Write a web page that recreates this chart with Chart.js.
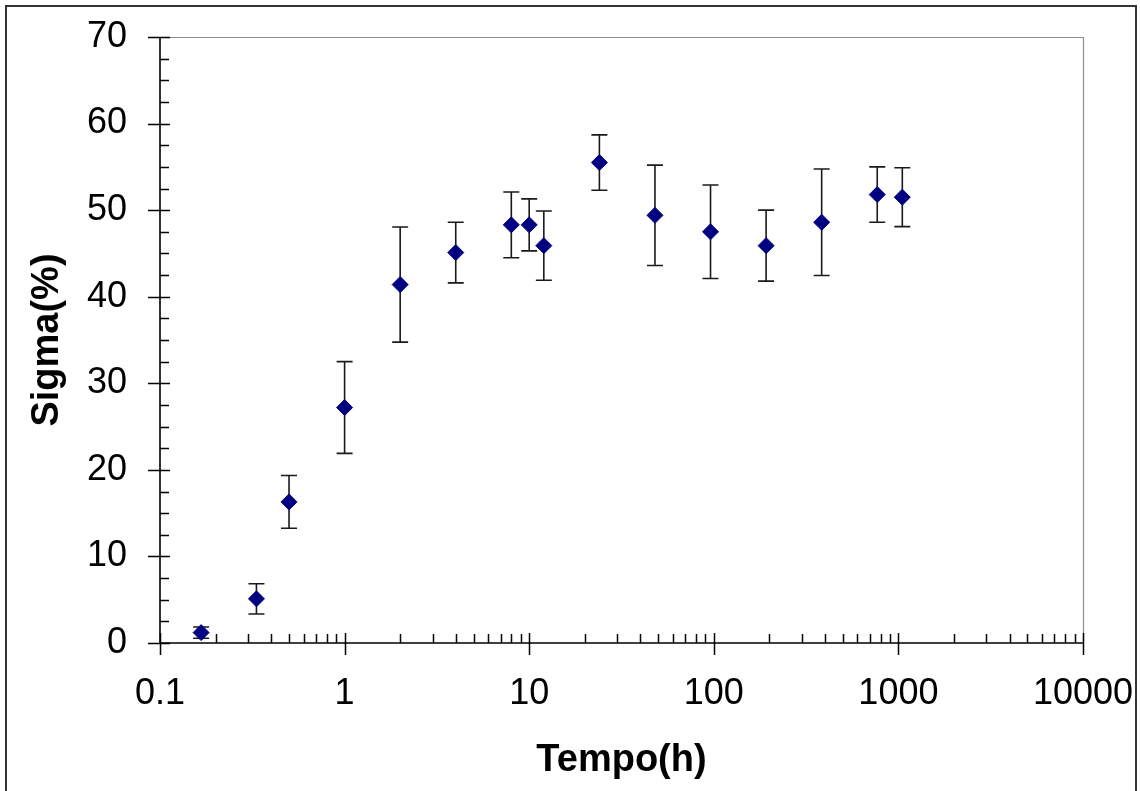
<!DOCTYPE html>
<html>
<head>
<meta charset="utf-8">
<script src="https://cdn.jsdelivr.net/npm/chart.js@4.4.1/dist/chart.umd.min.js"></script>
<style>
  html, body { margin: 0; padding: 0; background: #fff; }
  #wrap { width: 1140px; height: 791px; position: relative; }
</style>
</head>
<body>
<div id="wrap"><canvas id="c" width="1140" height="791"></canvas></div>
<script>
// ---- data ----
const tempoHours = [0.167, 0.333, 0.5, 1, 2, 4, 8, 10, 12, 24, 48, 96, 192, 384, 768, 1050];
const sigmaPct   = [1.2, 5.1, 16.3, 27.2, 41.4, 45.1, 48.3, 48.3, 45.9, 55.5, 49.4, 47.5, 45.9, 48.6, 51.8, 51.5];
const sigmaErr   = [0.65, 1.75, 3.05, 5.3, 6.65, 3.5, 3.8, 3.0, 4.0, 3.2, 5.8, 5.4, 4.1, 6.15, 3.2, 3.4];
const xMajorTicks = [0.1, 1, 10, 100, 1000, 10000];
const xMinorSteps = [2, 3, 4, 5, 6, 7, 8, 9];
const yMajorTicks = [0, 10, 20, 30, 40, 50, 60, 70];
const yMinorStep = 2.5;
const xTitle = 'Tempo(h)';
const yTitle = 'Sigma(%)';

const FONT = "'Liberation Sans', Arial, sans-serif";

const points = tempoHours.map((t, i) => ({ x: t, y: sigmaPct[i] }));

function isMajorX(v) { return xMajorTicks.some(m => Math.abs(m - v) / m < 1e-9); }
function isMajorY(v) { return yMajorTicks.some(m => Math.abs(m - v) < 1e-9); }

const decorPlugin = {
  id: 'decor',
  beforeDatasetsDraw(chart) {
    const ctx = chart.ctx;
    const xs = chart.scales.x, ys = chart.scales.y;
    ctx.save();
    ctx.strokeStyle = '#1a1a1a';
    ctx.lineWidth = 1.6;
    tempoHours.forEach((t, i) => {
      const px = xs.getPixelForValue(t);
      const top = ys.getPixelForValue(sigmaPct[i] + sigmaErr[i]);
      const bot = ys.getPixelForValue(sigmaPct[i] - sigmaErr[i]);
      ctx.beginPath();
      ctx.moveTo(px, top); ctx.lineTo(px, bot);
      ctx.moveTo(px - 8, top); ctx.lineTo(px + 8, top);
      ctx.moveTo(px - 8, bot); ctx.lineTo(px + 8, bot);
      ctx.stroke();
    });
    ctx.restore();
  },
  afterDraw(chart) {
    const ctx = chart.ctx;
    const a = chart.chartArea;
    const xs = chart.scales.x, ys = chart.scales.y;
    ctx.save();
    // plot frame top/right (gray)
    ctx.strokeStyle = '#8c8c8c';
    ctx.lineWidth = 1.2;
    ctx.beginPath();
    ctx.moveTo(a.left, a.top + 0.5); ctx.lineTo(a.right + 0.5, a.top + 0.5);
    ctx.lineTo(a.right + 0.5, a.bottom);
    ctx.stroke();
    // axes
    ctx.strokeStyle = '#000';
    ctx.lineWidth = 1.6;
    ctx.beginPath();
    ctx.moveTo(a.left, a.top); ctx.lineTo(a.left, a.bottom);
    ctx.moveTo(a.left, a.bottom); ctx.lineTo(a.right, a.bottom);
    ctx.stroke();
    // x ticks
    ctx.lineWidth = 1.5;
    ctx.beginPath();
    xs.ticks.forEach(tk => {
      const px = Math.round(xs.getPixelForValue(tk.value)) + 0.5;
      if (isMajorX(tk.value)) {
        ctx.moveTo(px, a.bottom - 10); ctx.lineTo(px, a.bottom + 12);
      } else {
        ctx.moveTo(px, a.bottom - 9); ctx.lineTo(px, a.bottom);
      }
    });
    // y ticks
    ys.ticks.forEach(tk => {
      const py = Math.round(ys.getPixelForValue(tk.value)) + 0.5;
      if (isMajorY(tk.value)) {
        ctx.moveTo(a.left - 12, py); ctx.lineTo(a.left + 10, py);
      } else {
        ctx.moveTo(a.left, py); ctx.lineTo(a.left + 9, py);
      }
    });
    ctx.stroke();
    // outer picture border
    ctx.strokeStyle = '#333';
    ctx.lineWidth = 2;
    ctx.strokeRect(6, 6, 1130, 820);
    ctx.restore();
  }
};

new Chart(document.getElementById('c'), {
  type: 'scatter',
  data: {
    datasets: [{
      data: points,
      pointStyle: 'rectRot',
      pointRadius: 8,
      pointHoverRadius: 8,
      backgroundColor: '#000080',
      borderColor: '#000080',
      borderWidth: 1
    }]
  },
  options: {
    responsive: false,
    animation: false,
    events: [],
    layout: { padding: { top: 37, right: 57, left: 0, bottom: 0 } },
    plugins: { legend: { display: false }, tooltip: { enabled: false } },
    scales: {
      x: {
        type: 'logarithmic',
        min: 0.1, max: 10000,
        afterBuildTicks(scale) {
          const vals = [];
          xMajorTicks.forEach((m, i) => {
            vals.push(m);
            if (i < xMajorTicks.length - 1) xMinorSteps.forEach(s => vals.push(+(m * s).toPrecision(6)));
          });
          scale.ticks = vals.map(v => ({ value: v, major: isMajorX(v) }));
        },
        afterFit(scale) { scale.height = 148; scale.paddingLeft = 0; scale.paddingRight = 0; },
        grid: { display: true, drawOnChartArea: false, drawTicks: true, tickLength: 12, color: 'rgba(0,0,0,0)' },
        border: { display: false },
        ticks: {
          autoSkip: false, maxRotation: 0, minRotation: 0, padding: 17,
          color: '#000',
          font: { family: FONT, size: 36 },
          callback(v) { return isMajorX(v) ? String(v) : ''; }
        },
        title: {
          display: true, text: xTitle, color: '#000',
          font: { family: FONT, size: 38, weight: 'bold' },
          padding: { top: 0, bottom: 8 }
        }
      },
      y: {
        type: 'linear',
        min: 0, max: 70,
        afterBuildTicks(scale) {
          const vals = [];
          for (let v = 0; v <= 70 + 1e-9; v += yMinorStep) vals.push(v);
          scale.ticks = vals.map(v => ({ value: v }));
        },
        afterFit(scale) { scale.width = 160; scale.paddingTop = 0; scale.paddingBottom = 0; },
        grid: { display: true, drawOnChartArea: false, drawTicks: true, tickLength: 12, color: 'rgba(0,0,0,0)' },
        border: { display: false },
        ticks: {
          autoSkip: false, padding: 21,
          color: '#000',
          font: { family: FONT, size: 36 },
          callback(v) { return isMajorY(v) ? String(v) : ''; }
        },
        title: {
          display: true, text: yTitle, color: '#000',
          font: { family: FONT, size: 38, weight: 'bold' },
          padding: { top: 25, bottom: 0 }
        }
      }
    }
  },
  plugins: [decorPlugin]
});
</script>
</body>
</html>
